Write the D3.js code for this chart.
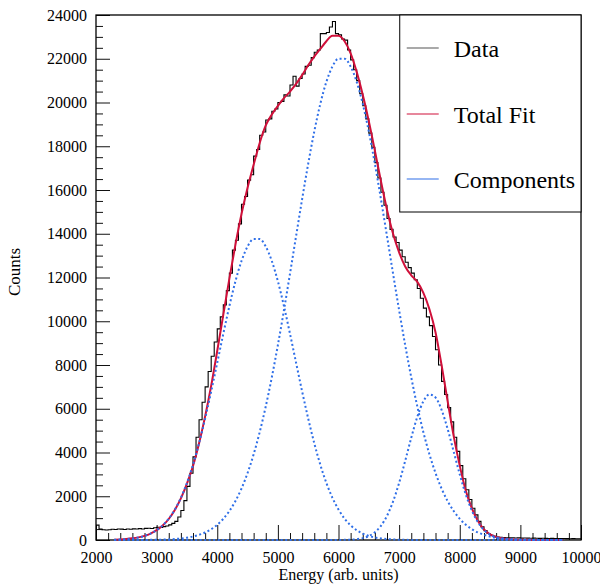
<!DOCTYPE html>
<html>
<head>
<meta charset="utf-8">
<script src="https://cdn.jsdelivr.net/npm/d3@7"></script>
<style>
    body { margin: 0; background: #fff; }
    text { font-family: "Liberation Serif", "Times New Roman", serif; fill: #000; }
</style>
</head>
<body>
<div id="chart"></div>
<script>
// histogram: 50-unit bins from 2000 to 10000
const binStart = 2000;
const binWidth = 50;
const dataCounts = [
    680, 500, 470, 455, 470, 490, 480, 500, 495, 480,
    505, 490, 510, 500, 520, 505, 530, 540, 525, 560,
    580, 570, 610, 640, 690, 760, 850,
    1050, 1350, 1800, 2450, 3050, 3800, 4700, 5500, 6300, 7000,
    7700, 8400, 9050, 9650, 10200, 10750, 11400,
    12200, 13250, 13700, 14450, 15350, 15700, 16450, 16700, 17550, 17850,
    18500, 18650, 19200, 19250, 19600, 19700, 20000, 20050, 20350, 20300,
    20800, 21200, 20750, 21100, 21300, 21650, 21700, 22050, 22300, 22400,
    23150, 23150, 23200, 23450, 23700, 23150, 23100, 22900, 22850, 22400,
    21950,
    21500, 21000, 20400, 19850, 19250, 18600, 17950, 17250, 16550, 15900,
    15300, 14700, 14200, 13850, 13600, 13250, 12950, 12700, 12450, 12200,
    11900, 11500, 11050, 10600, 10200, 9800, 9300, 8700, 8000, 7250,
    6650, 6050, 5400, 4700, 4050, 3400, 2800, 2300, 1850, 1450,
    1150, 850, 600, 430, 300, 220, 170, 140, 120,
    110, 100, 95, 100, 90, 95, 85, 90, 85, 80,
    85, 80, 75, 80, 75, 70, 75, 70, 70, 65,
    70, 65, 60, 65, 60, 60
];

// fit curves sampled every 100 units from 2300 to 9700
const fitStart = 2300;
const fitStep = 100;
const fitTotal = [
    15, 25, 45, 75, 120, 190, 295, 450, 660, 960,
    1370, 1900, 2580, 3380, 4420, 5650, 7050, 8650, 10300, 11950,
    13500, 14900, 16100, 17150, 18150, 18950, 19450, 19850, 20200, 20500,
    20850, 21250, 21700, 22100, 22450, 22800, 23050, 23050, 22800, 22250,
    21400, 20350, 19150, 17800, 16400, 15100, 14000, 13150, 12500, 12100,
    11800, 11300, 10550, 9500, 8000, 6350, 4750, 3400, 2250, 1450,
    870, 480, 260, 140, 80, 45, 25, 15, 8, 5,
    3, 2, 1, 1, 0
];
const comp1 = [
    13, 23, 41, 69, 115, 185, 291, 447, 669, 976,
    1390, 1928, 2608, 3442, 4427, 5555, 6794, 8105, 9427, 10692,
    11827, 12755, 13415, 13757, 13757, 13415, 12755, 11827, 10692, 9427,
    8105, 6794, 5555, 4427, 3442, 2608, 1928, 1390, 976, 669,
    447, 291, 185, 115, 69, 41, 23, 13, 7, 4,
    0, 0, 0, 0, 0, 0, 0, 0, 0, 0,
    0, 0, 0, 0, 0, 0, 0, 0, 0, 0,
    0, 0, 0, 0, 0
];
const comp2 = [
    0, 0, 1, 1, 2, 4, 6, 11, 17, 28,
    44, 69, 105, 159, 236, 344, 494, 697, 968, 1323,
    1779, 2353, 3063, 3916, 4930, 6106, 7437, 8910, 10502, 12176,
    13887, 15583, 17197, 18670, 19938, 20945, 21646, 22005, 22005, 21646,
    20945, 19938, 18670, 17197, 15583, 13887, 12176, 10502, 8910, 7437,
    6106, 4930, 3916, 3063, 2353, 1779, 1323, 968, 697, 494,
    344, 236, 159, 105, 69, 44, 28, 17, 11, 6,
    4, 2, 1, 1, 0
];
const comp3 = [
    0, 0, 0, 0, 0, 0, 0, 0, 0, 0,
    0, 0, 0, 0, 0, 0, 0, 0, 0, 0,
    0, 0, 0, 0, 0, 0, 0, 0, 0, 0,
    0, 0, 0, 0, 0, 0, 1, 2, 6, 16,
    38, 87, 181, 355, 649, 1106, 1760, 2611, 3616, 4672,
    5632, 6336, 6651, 6514, 5953, 5076, 4039, 2999, 2078, 1343,
    810, 456, 239, 117, 54, 23, 9, 3, 1, 0,
    0, 0, 0, 0, 0
];

const xTicks = [2000, 3000, 4000, 5000, 6000, 7000, 8000, 9000, 10000];
const yTicks = [0, 2000, 4000, 6000, 8000, 10000, 12000, 14000, 16000, 18000, 20000, 22000, 24000];
const legendLabels = ["Data", "Total Fit", "Components"];
const legendColors = ["#555555", "#d0103a", "#2f6fe8"];

const width = 600;
const height = 587;
const margin = { top: 15, right: 19, bottom: 47, left: 96 };
const innerW = width - margin.left - margin.right;
const innerH = height - margin.top - margin.bottom;

const svg = d3.select("#chart")
    .append("svg")
    .attr("width", width)
    .attr("height", height)
    .append("g")
    .attr("transform", `translate(${margin.left},${margin.top})`);

const x = d3.scaleLinear().domain([2000, 10000]).range([0, innerW]);
const y = d3.scaleLinear().domain([0, 24000]).range([innerH, 0]);

// minor ticks
svg.append("g")
    .attr("transform", `translate(0,${innerH})`)
    .call(d3.axisBottom(x)
        .tickValues(d3.range(2000, 10001, 200).filter(v => v % 1000 !== 0))
        .tickSize(-7)
        .tickFormat(""))
    .call(g => g.select(".domain").remove());

svg.append("g")
    .call(d3.axisLeft(y)
        .tickValues(d3.range(0, 24001, 500).filter(v => v % 2000 !== 0))
        .tickSize(-7)
        .tickFormat(""))
    .call(g => g.select(".domain").remove());

// major ticks + labels
svg.append("g")
    .attr("transform", `translate(0,${innerH})`)
    .call(d3.axisBottom(x)
        .tickValues(xTicks)
        .tickSize(-15)
        .tickPadding(12)
        .tickFormat(d3.format("d")))
    .call(g => g.select(".domain").remove())
    .selectAll("text")
    .attr("font-size", "16px");

svg.append("g")
    .call(d3.axisLeft(y)
        .tickValues(yTicks)
        .tickSize(-14)
        .tickPadding(9)
        .tickFormat(d3.format("d")))
    .call(g => g.select(".domain").remove())
    .selectAll("text")
    .attr("font-size", "16px");

svg.selectAll(".tick line").attr("stroke", "#111");
svg.selectAll(".tick text").attr("font-family", "Liberation Serif, serif").attr("fill", "#000");

// frame
svg.append("rect")
    .attr("x", 0)
    .attr("y", 0)
    .attr("width", innerW)
    .attr("height", innerH)
    .attr("fill", "none")
    .attr("stroke", "#000")
    .attr("stroke-width", 1.3);

// histogram
const histPoints = dataCounts.map((c, i) => [binStart + i * binWidth, c]);
histPoints.push([binStart + dataCounts.length * binWidth, dataCounts[dataCounts.length - 1]]);

svg.append("path")
    .datum(histPoints)
    .attr("fill", "none")
    .attr("stroke", "#000")
    .attr("stroke-width", 1.1)
    .attr("d", d3.line()
        .x(d => x(d[0]))
        .y(d => y(d[1]))
        .curve(d3.curveStepAfter));

const fitLine = d3.line()
    .x((d, i) => x(fitStart + i * fitStep))
    .y(d => y(d))
    .curve(d3.curveMonotoneX);

svg.append("path")
    .datum(fitTotal)
    .attr("fill", "none")
    .attr("stroke", legendColors[1])
    .attr("stroke-width", 2)
    .attr("d", fitLine);

[comp1, comp2, comp3].forEach(comp => {
    svg.append("path")
        .datum(comp)
        .attr("fill", "none")
        .attr("stroke", legendColors[2])
        .attr("stroke-width", 2)
        .attr("stroke-dasharray", "2,2.5")
        .attr("d", fitLine);
});

// legend
const legend = svg.append("g")
    .attr("transform", `translate(${x(7010)},0)`);

legend.append("rect")
    .attr("x", 0)
    .attr("y", 0)
    .attr("width", innerW - x(7010))
    .attr("height", 197)
    .attr("fill", "#fff")
    .attr("stroke", "#000")
    .attr("stroke-width", 1);

const legendRows = [33, 99, 164];
legendLabels.forEach((label, i) => {
    legend.append("line")
        .attr("x1", 7)
        .attr("x2", 39)
        .attr("y1", legendRows[i])
        .attr("y2", legendRows[i])
        .attr("stroke", legendColors[i])
        .attr("stroke-width", 1.2);
    legend.append("text")
        .attr("x", 54)
        .attr("y", legendRows[i] + 8.5)
        .attr("font-size", "24px")
        .text(label);
});

// axis titles
svg.append("text")
    .attr("x", innerW / 2)
    .attr("y", innerH + 40)
    .attr("text-anchor", "middle")
    .attr("font-size", "16px")
    .text("Energy (arb. units)");

svg.append("text")
    .attr("transform", "rotate(-90)")
    .attr("x", -257)
    .attr("y", -76)
    .attr("text-anchor", "middle")
    .attr("font-size", "17px")
    .text("Counts");
</script>
</body>
</html>
